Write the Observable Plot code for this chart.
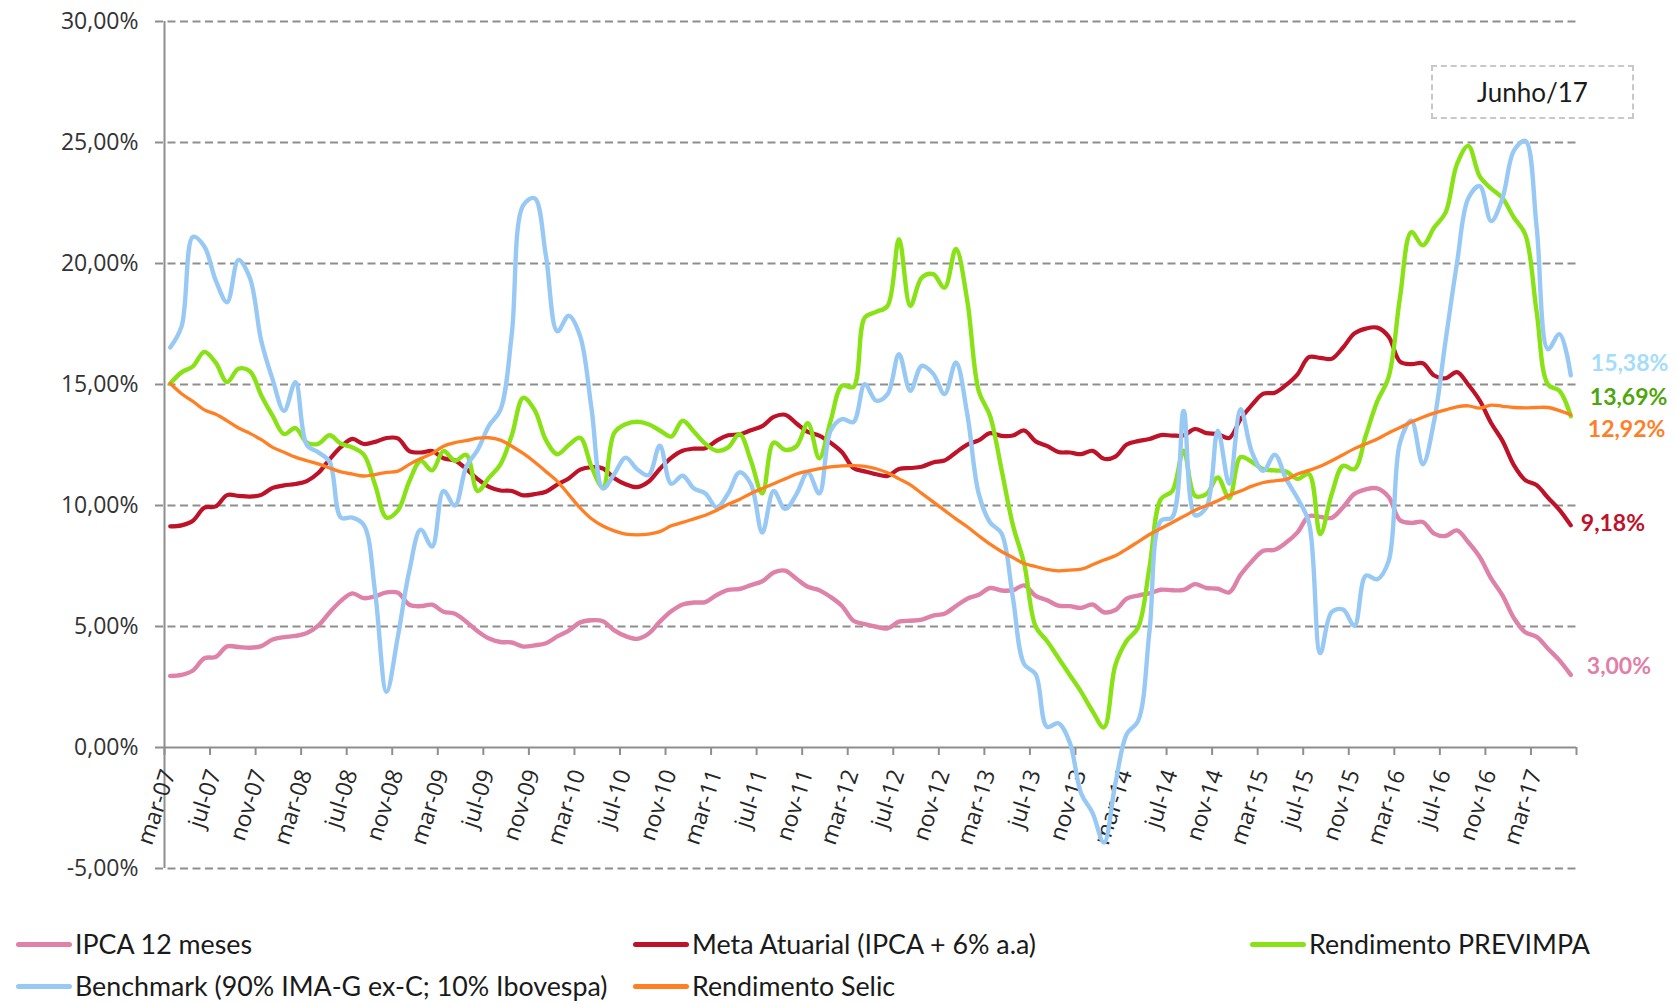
<!DOCTYPE html>
<html><head><meta charset="utf-8">
<script src="https://cdn.jsdelivr.net/npm/d3@7"></script>
<script src="https://cdn.jsdelivr.net/npm/@observablehq/plot@0.6"></script>
<style>
html,body{margin:0;padding:0;background:#fff;}
#wrap{position:relative;width:1678px;height:1003px;overflow:hidden;font-family:Lato,"Open Sans",sans-serif;background:#fff;}
#chart{position:absolute;left:0;top:0;}
.box{position:absolute;left:1431px;top:65px;width:203px;height:54px;box-sizing:border-box;border:2px dashed #c8c8c8;display:flex;align-items:center;justify-content:center;font-size:26px;color:#1a1a1a;}
.leg{position:absolute;display:flex;align-items:center;height:30px;font-size:26.8px;color:#1a1a1a;white-space:nowrap;}
.sw{width:56px;height:5px;border-radius:3px;margin-right:3px;}
</style></head><body><div id="wrap"><div id="chart"></div><div class="box" id="box"></div><div id="legend"></div></div>
<script>
// ---- data (monthly, mar-07 .. jun-17) ----
const tickLabels = ["mar-07","jul-07","nov-07","mar-08","jul-08","nov-08","mar-09","jul-09","nov-09","mar-10","jul-10","nov-10","mar-11","jul-11","nov-11","mar-12","jul-12","nov-12","mar-13","jul-13","nov-13","mar-14","jul-14","nov-14","mar-15","jul-15","nov-15","mar-16","jul-16","nov-16","mar-17"];
const yTicks = [-5, 0, 5, 10, 15, 20, 25, 30];

const ipca = [2.96,3.00,3.18,3.69,3.74,4.18,4.15,4.12,4.19,4.46,
4.56,4.61,4.73,5.04,5.58,6.06,6.37,6.17,6.25,6.41,
6.39,5.90,5.84,5.90,5.61,5.53,5.20,4.80,4.50,4.36,
4.34,4.17,4.22,4.31,4.59,4.83,5.17,5.26,5.22,4.84,
4.60,4.49,4.70,5.20,5.63,5.91,5.99,6.01,6.30,6.51,
6.55,6.71,6.87,7.23,7.31,6.97,6.64,6.50,6.22,5.85,
5.24,5.10,4.99,4.92,5.20,5.24,5.28,5.45,5.53,5.84,
6.15,6.31,6.59,6.49,6.50,6.70,6.27,6.09,5.86,5.84,
5.77,5.91,5.59,5.68,6.15,6.28,6.37,6.52,6.50,6.51,
6.75,6.59,6.56,6.41,7.14,7.70,8.13,8.17,8.47,8.89,
9.56,9.53,9.49,9.93,10.48,10.67,10.71,10.36,9.39,9.28,
9.32,8.84,8.74,8.97,8.48,7.87,6.99,6.29,5.35,4.76,
4.57,4.08,3.60,3.00];

const meta = [9.14,9.18,9.37,9.91,9.96,10.43,10.40,10.37,10.44,10.73,
10.83,10.89,11.01,11.34,11.91,12.42,12.75,12.54,12.63,12.79,
12.77,12.25,12.19,12.25,11.95,11.86,11.51,11.09,10.77,10.62,
10.60,10.42,10.47,10.57,10.87,11.12,11.48,11.58,11.53,11.13,
10.88,10.76,10.98,11.51,11.97,12.26,12.35,12.37,12.68,12.90,
12.94,13.11,13.28,13.66,13.75,13.39,13.04,12.89,12.59,12.20,
11.55,11.41,11.29,11.22,11.51,11.55,11.60,11.78,11.86,12.19,
12.52,12.69,12.99,12.88,12.89,13.10,12.65,12.46,12.21,12.19,
12.12,12.26,11.93,12.02,12.52,12.66,12.75,12.91,12.89,12.90,
13.16,12.99,12.95,12.79,13.57,14.16,14.62,14.66,14.98,15.42,
16.13,16.10,16.06,16.53,17.11,17.31,17.35,16.98,15.95,15.84,
15.88,15.37,15.26,15.51,14.99,14.34,13.41,12.67,11.67,11.05,
10.84,10.32,9.82,9.18];

const previmpa = [15.04,15.5,15.75,16.35,15.9,15.1,15.65,15.55,14.55,13.7,
12.95,13.2,12.6,12.55,12.9,12.55,12.4,12.1,10.85,9.5,
9.8,11.0,11.85,11.45,12.25,11.85,12.1,10.6,11.15,11.7,
12.9,14.45,13.95,12.7,12.12,12.5,12.8,11.6,10.75,13.0,
13.36,13.46,13.36,13.1,12.85,13.5,13.05,12.55,12.26,12.4,
12.95,11.85,10.5,12.6,12.3,12.45,13.4,11.95,13.5,14.95,
14.9,17.77,18.0,18.25,21.0,18.25,19.42,19.56,19.0,20.6,
18.46,14.74,13.7,11.5,9.2,7.58,5.0,4.4,3.7,3.0,
2.3,1.5,0.83,3.4,4.41,4.96,7.44,10.26,10.6,12.26,
10.4,10.47,11.16,10.3,12.0,11.8,11.5,11.45,11.4,11.1,
11.3,8.82,10.47,11.64,11.5,12.9,14.3,15.3,18.6,21.3,
20.75,21.49,22.1,24.1,24.86,23.6,23.1,22.7,21.9,21.2,
18.0,15.0,14.74,13.69];

const benchmark = [16.53,17.4,21.1,20.7,19.3,18.4,20.15,19.4,16.8,15.2,
13.91,15.1,12.5,12.2,11.8,9.5,9.5,9.2,6.4,2.3,
4.6,7.3,9.0,8.3,10.6,10.0,11.6,12.3,13.3,13.95,
17.1,22.4,22.7,20.3,17.2,17.84,17.0,14.0,10.7,11.3,
11.98,11.5,11.25,12.47,10.9,11.23,10.7,10.5,9.92,10.5,
11.37,10.88,8.88,10.6,9.85,10.47,11.37,10.5,13.09,13.57,
13.45,15.01,14.33,14.6,16.25,14.74,15.77,15.45,14.6,15.91,
13.77,10.5,9.3,8.85,6.2,3.44,3.03,0.85,1.0,0.2,
-1.9,-2.7,-3.93,-1.5,0.55,1.1,4.8,9.37,9.51,13.91,
9.6,9.92,13.09,10.9,13.98,12.2,11.43,12.1,11.1,10.3,
9.3,3.9,5.6,5.7,5.03,7.1,6.95,7.7,12.6,13.5,
11.7,13.5,16.8,20.0,22.7,23.2,21.75,22.7,24.66,25.07,
21.5,16.46,17.08,15.38];

const selic = [15.04,14.62,14.3,13.95,13.77,13.5,13.2,12.98,12.72,12.4,
12.2,12.0,11.85,11.72,11.55,11.39,11.3,11.22,11.28,11.37,
11.42,11.7,11.94,12.15,12.45,12.6,12.68,12.78,12.8,12.7,
12.45,12.15,11.8,11.4,11.0,10.45,9.9,9.45,9.15,8.95,
8.82,8.79,8.82,8.92,9.16,9.3,9.45,9.6,9.8,10.05,
10.25,10.5,10.7,10.9,11.1,11.3,11.42,11.52,11.6,11.64,
11.65,11.62,11.52,11.35,11.1,10.85,10.5,10.15,9.8,9.45,
9.12,8.75,8.4,8.1,7.85,7.6,7.48,7.36,7.3,7.33,
7.37,7.55,7.75,7.92,8.2,8.5,8.8,9.05,9.3,9.55,
9.8,10.0,10.2,10.42,10.6,10.8,10.95,11.02,11.08,11.3,
11.45,11.62,11.85,12.1,12.35,12.55,12.75,13.0,13.22,13.45,
13.65,13.82,13.95,14.08,14.12,14.02,14.15,14.1,14.05,14.03,
14.05,14.05,13.92,13.75];

const seriesNames = ["IPCA 12 meses","Meta Atuarial (IPCA + 6% a.a)","Rendimento PREVIMPA","Benchmark (90% IMA-G ex-C; 10% Ibovespa)","Rendimento Selic"];
const seriesValues = [ipca, meta, previmpa, benchmark, selic];
const endLabels = ["3,00%","9,18%","13,69%","15,38%","12,92%"];
const boxText = "Junho/17";

// ---- styles ----
const lineColors = ["#df82aa","#be1228","#88e216","#98c9f5","#ff7f24"];
const lineWidths = [4.4, 4.2, 4.4, 4.4, 3.3];
const labelColors = ["#e080a8","#c0102a","#4ea60c","#a4dcfc","#ff7f27"];
const labelDx = [16, 10, 19, 20, 17];
const labelDy = [-8, -1.5, -18.7, -12, 14.6];

const n = ipca.length;
const idx = d3.range(n);
const tickIdx = tickLabels.map((_, k) => k * 4);
const boundaries = tickIdx.map(i => i - 0.5).concat([n - 0.5]);
const fmt = d => d.toFixed(2).replace(".", ",") + "%";
const grey = "#8e8e8e";

const lineMarks = seriesValues.map((vals, s) => Plot.line(idx, {
  x: d => d, y: d => vals[d], stroke: lineColors[s], strokeWidth: lineWidths[s],
  curve: "catmull-rom", strokeLinecap: "round", strokeLinejoin: "round"
}));
const labelMarks = seriesValues.map((vals, s) => Plot.text([n - 1], {
  x: d => d, y: d => vals[d], text: () => endLabels[s], textAnchor: "start",
  dx: labelDx[s], dy: labelDy[s], fill: labelColors[s], fontWeight: "bold", fontSize: 23,
  fontFamily: "Lato, sans-serif"
}));

const chart = Plot.plot({
  width: 1678, height: 905,
  marginLeft: 164, marginRight: 102, marginTop: 21, marginBottom: 37,
  x: {type: "linear", domain: [-0.5, n - 0.5], axis: null},
  y: {type: "linear", domain: [-5, 30], axis: null},
  style: {background: "#fff", fontFamily: "Lato, sans-serif", overflow: "visible"},
  marks: [
    Plot.ruleY(yTicks.filter(d => d !== 0), {y: d => d, stroke: grey, strokeWidth: 1.8, strokeDasharray: "8,4.5", insetLeft: -9}),
    Plot.ruleY([0], {y: d => d, stroke: grey, strokeWidth: 2, insetLeft: -9}),
    Plot.ruleX([-0.5], {x: d => d, stroke: grey, strokeWidth: 2}),
    Plot.ruleX(boundaries, {x: d => d, y1: 0, y2: 0, insetBottom: -8, stroke: grey, strokeWidth: 2}),
    Plot.text(yTicks, {y: d => d, frameAnchor: "left", text: d => fmt(d), textAnchor: "end", dx: -26,
      fontFamily: "Open Sans", fontSize: 23, fill: "#333333"}),
    Plot.text(tickIdx, {x: d => d, y: 0, text: (d, i) => tickLabels[i], rotate: -72, textAnchor: "end",
      dy: 23, dx: -1.5, fontSize: 23, fill: "#262626", fontFamily: "Open Sans"}),
    ...lineMarks,
    ...labelMarks
  ]
});
document.getElementById("chart").appendChild(chart);
document.getElementById("box").textContent = boxText;

// ---- legend ----
const legPos = [[16, 944], [633, 944], [1250, 944], [16, 986], [633, 986]];
const leg = document.getElementById("legend");
seriesNames.forEach((name, s) => {
  const item = document.createElement("div");
  item.className = "leg";
  item.style.left = legPos[s][0] + "px";
  item.style.top = (legPos[s][1] - 15) + "px";
  const sw = document.createElement("span");
  sw.className = "sw";
  sw.style.background = lineColors[s];
  const tx = document.createElement("span");
  tx.textContent = name;
  item.appendChild(sw); item.appendChild(tx);
  leg.appendChild(item);
});
</script></body></html>
